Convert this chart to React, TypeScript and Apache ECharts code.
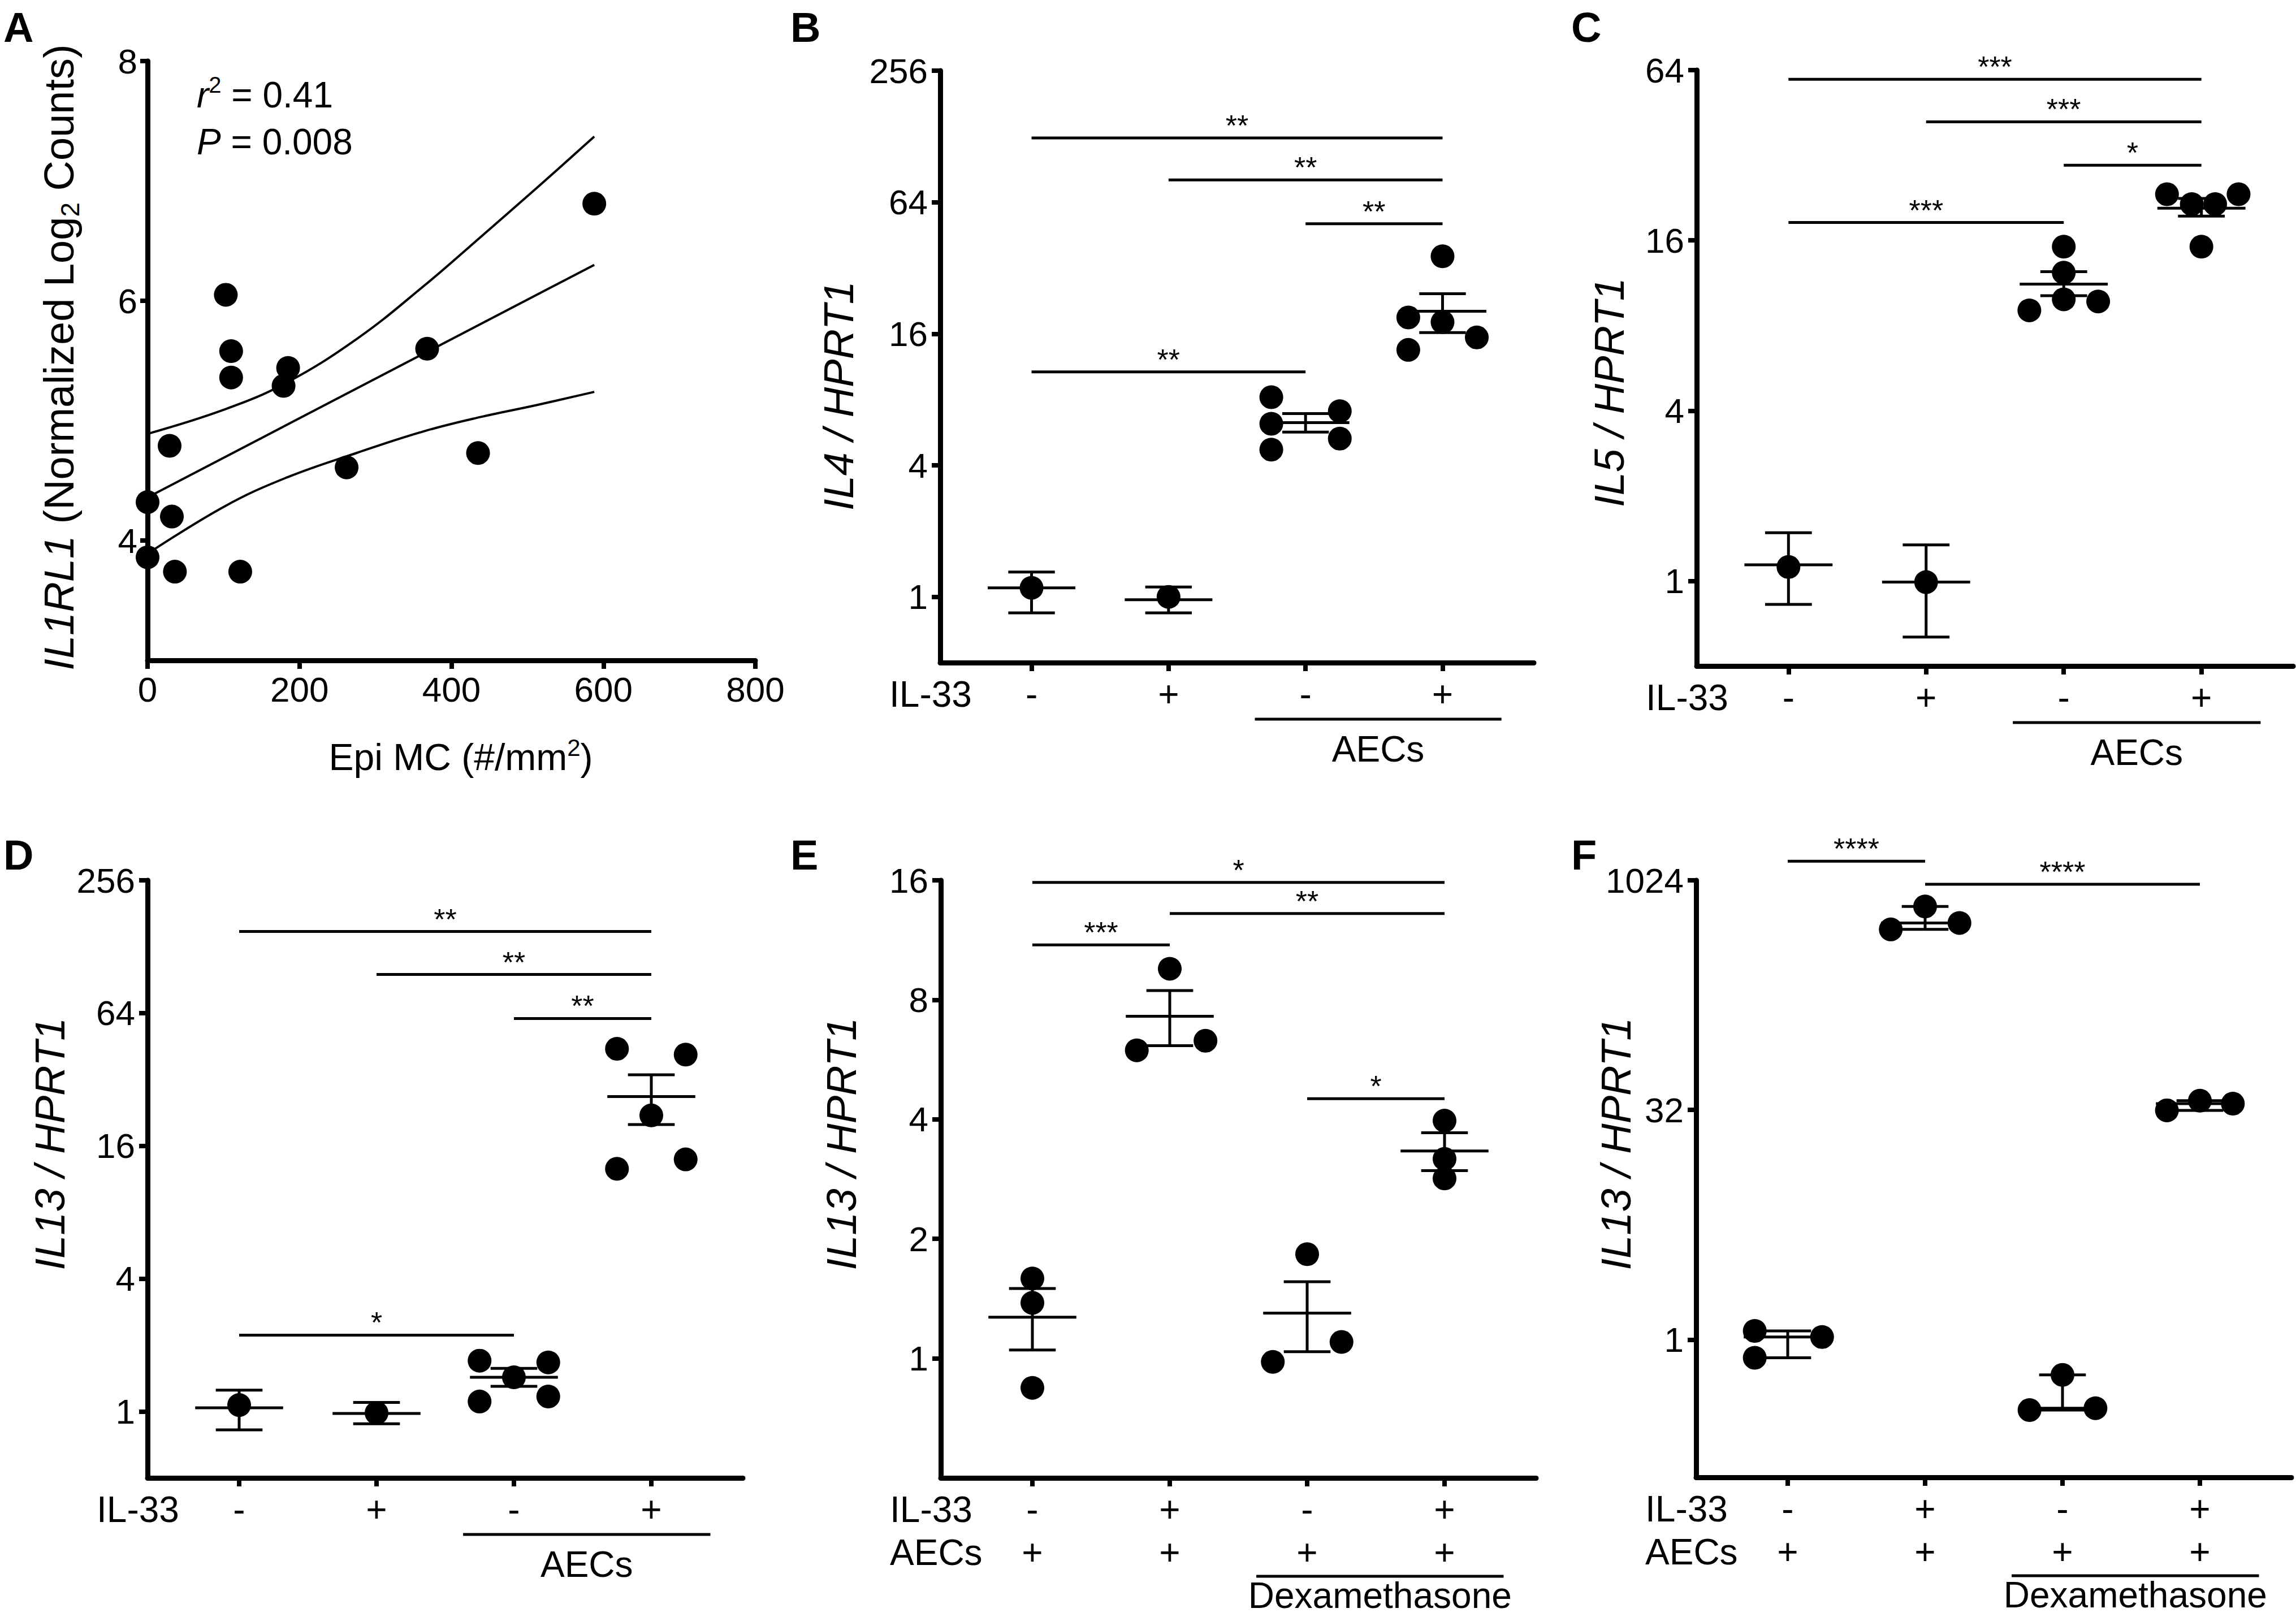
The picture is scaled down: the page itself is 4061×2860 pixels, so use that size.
import React, { useEffect, useRef } from "react";
import * as echarts from "echarts";

const FONT = "'Liberation Sans', Arial, Helvetica, sans-serif";
const BLACK = "#000000";

// ---------------- Panel A (scatter + regression) ----------------
const aEpiMC = [103, 110, 110, 185, 179, 368, 588, 29, 435, 262, 0, 32, 0, 36, 122];
const aIL1RL1 = [6.05, 5.58, 5.36, 5.44, 5.29, 5.6, 6.81, 4.79, 4.73, 4.61, 4.32, 4.2, 3.86, 3.74, 3.74];
const aFitX = [0, 588];
const aFitY = [4.36, 6.3];
const aBandX = [0, 100, 181, 275, 363, 438, 512, 588];
const aUpperY = [4.89, 5.09, 5.31, 5.68, 6.12, 6.53, 6.94, 7.37];
const aLowerY = [3.89, 4.28, 4.52, 4.73, 4.91, 5.03, 5.13, 5.24];
const aXTicks = [0, 200, 400, 600, 800];
const aYTicks = [4, 6, 8];

// ---------------- shared category labels ----------------
const catTicks = [0, 1, 2, 3];
const il33Labels = ["-", "+", "-", "+"];
const aecsLabels = ["+", "+", "+", "+"];

// ---------------- Panel B : IL4 / HPRT1 ----------------
const bDotX = [0, 1, 1.75, 1.75, 1.75, 2.25, 2.25, 3, 2.75, 3, 3.25, 2.75];
const bDotY = [1.1, 1.0, 8.2, 6.2, 4.72, 7.08, 5.3, 36.2, 19.0, 18.1, 15.4, 13.5];
const bMean = [1.1, 0.97, 6.27, 20.3];
const bLo = [0.845, 0.845, 5.68, 16.2];
const bHi = [1.3, 1.11, 6.9, 24.4];
const bBrX1 = [0, 1, 2, 0];
const bBrX2 = [3, 3, 3, 2];
const bBrY = [126, 81, 51, 10.7];
const bBrLabel = ["**", "**", "**", "**"];
const bYTicks = [1, 4, 16, 64, 256];

// ---------------- Panel C : IL5 / HPRT1 ----------------
const cDotX = [0, 1, 2, 2, 1.75, 2, 2.25, 2.75, 3.27, 2.93, 3.1, 3.0];
const cDotY = [1.12, 0.99, 15.2, 12.3, 9.05, 9.9, 9.73, 23.3, 23.3, 21.5, 21.5, 15.2];
const cMean = [1.14, 0.99, 11.2, 20.8];
const cLo = [0.826, 0.633, 10.2, 19.5];
const cHi = [1.48, 1.34, 12.4, 22.5];
const cBrX1 = [0, 1, 2, 0];
const cBrX2 = [3, 3, 3, 2];
const cBrY = [59.4, 42, 29.5, 18.5];
const cBrLabel = ["***", "***", "*", "***"];
const cYTicks = [1, 4, 16, 64];

// ---------------- Panel D : IL13 / HPRT1 ----------------
const dDotX = [0, 1, 1.75, 2.25, 2, 1.75, 2.25, 2.75, 3.25, 3, 2.75, 3.25];
const dDotY = [1.07, 0.985, 1.7, 1.67, 1.43, 1.11, 1.17, 44.1, 41.5, 22.0, 12.6, 13.9];
const dMean = [1.04, 0.98, 1.43, 26.8];
const dLo = [0.826, 0.88, 1.3, 20.0];
const dHi = [1.25, 1.1, 1.57, 33.6];
const dBrX1 = [0, 1, 2, 0];
const dBrX2 = [3, 3, 3, 2];
const dBrY = [150, 95.8, 60.5, 2.22];
const dBrLabel = ["**", "**", "**", "*"];
const dYTicks = [1, 4, 16, 64, 256];

// ---------------- Panel E : IL13 / HPRT1 (dexamethasone) ----------------
const eDotX = [0, 0, 0, 1, 0.76, 1.26, 2, 1.75, 2.25, 3, 3, 3];
const eDotY = [1.59, 1.38, 0.843, 9.58, 5.97, 6.31, 1.83, 0.98, 1.1, 3.97, 3.18, 2.84];
const eMean = [1.27, 7.27, 1.3, 3.33];
const eLo = [1.05, 6.13, 1.04, 2.97];
const eHi = [1.5, 8.44, 1.56, 3.7];
const eBrX1 = [0, 1, 0, 2];
const eBrX2 = [3, 3, 1, 3];
const eBrY = [15.8, 13.2, 11.0, 4.51];
const eBrLabel = ["*", "**", "***", "*"];
const eYTicks = [1, 2, 4, 8, 16];

// ---------------- Panel F : IL13 / HPRT1 (dexamethasone) ----------------
const fDotX = [-0.24, 0.25, -0.24, 1, 0.75, 1.25, 2, 1.76, 2.24, 2.76, 3.0, 3.24];
const fDotY = [1.14, 1.04, 0.76, 690, 488, 538, 0.587, 0.345, 0.355, 31.8, 36.8, 35.2];
const fMid = [1.04, 538, 0.355, 35.2];
const fLo = [0.76, 488, 0.345, 31.8];
const fHi = [1.14, 690, 0.587, 36.8];
const fBrX1 = [0, 1];
const fBrX2 = [1, 3];
const fBrY = [1366, 965];
const fBrLabel = ["****", "****"];
const fYTicks = [1, 32, 1024];

// ---------------- layout ----------------
const CAT_MIN = -2 / 3;
const CAT_MAX = 3 + 2 / 3;
const TICK_FONT = 62;
const CAT_FONT = 64;
const TITLE_FONT = 74;
const LETTER_FONT = 74;
const DOT = 42;

type Panel = {
  letter: string;
  letterX: number;
  letterY: number;
  grid: { left: number; top: number; width: number; height: number };
  yMin: number;
  yMax: number;
  yTicks: number[];
  dotX: number[];
  dotY: number[];
  mean: number[];
  lo: number[];
  hi: number[];
  brX1: number[];
  brX2: number[];
  brY: number[];
  brLabel: string[];
  title: string;
  titleX: number;
  titleY: number;
  rows: number;
  group: string;
};

const panels: Panel[] = [
  {
    letter: "B", letterX: 1398, letterY: 48,
    grid: { left: 1663, top: 125, width: 1050, height: 1047 },
    yMin: 0.5, yMax: 256, yTicks: bYTicks,
    dotX: bDotX, dotY: bDotY, mean: bMean, lo: bLo, hi: bHi,
    brX1: bBrX1, brX2: bBrX2, brY: bBrY, brLabel: bBrLabel,
    title: "IL4 / HPRT1", titleX: 1483, titleY: 700, rows: 1, group: "AECs",
  },
  {
    letter: "C", letterX: 2779, letterY: 48,
    grid: { left: 3001, top: 124, width: 1055, height: 1054 },
    yMin: 0.5, yMax: 64, yTicks: cYTicks,
    dotX: cDotX, dotY: cDotY, mean: cMean, lo: cLo, hi: cHi,
    brX1: cBrX1, brX2: cBrX2, brY: cBrY, brLabel: cBrLabel,
    title: "IL5 / HPRT1", titleX: 2846, titleY: 694, rows: 1, group: "AECs",
  },
  {
    letter: "D", letterX: 6, letterY: 1512,
    grid: { left: 261, top: 1557, width: 1053, height: 1057 },
    yMin: 0.5, yMax: 256, yTicks: dYTicks,
    dotX: dDotX, dotY: dDotY, mean: dMean, lo: dLo, hi: dHi,
    brX1: dBrX1, brX2: dBrX2, brY: dBrY, brLabel: dBrLabel,
    title: "IL13 / HPRT1", titleX: 88, titleY: 2023, rows: 1, group: "AECs",
  },
  {
    letter: "E", letterX: 1398, letterY: 1512,
    grid: { left: 1664, top: 1557, width: 1053, height: 1057 },
    yMin: 0.5, yMax: 16, yTicks: eYTicks,
    dotX: eDotX, dotY: eDotY, mean: eMean, lo: eLo, hi: eHi,
    brX1: eBrX1, brX2: eBrX2, brY: eBrY, brLabel: eBrLabel,
    title: "IL13 / HPRT1", titleX: 1488, titleY: 2023, rows: 2, group: "Dexamethasone",
  },
  {
    letter: "F", letterX: 2779, letterY: 1512,
    grid: { left: 3000, top: 1557, width: 1053, height: 1056 },
    yMin: 0.125, yMax: 1024, yTicks: fYTicks,
    dotX: fDotX, dotY: fDotY, mean: fMid, lo: fLo, hi: fHi,
    brX1: fBrX1, brX2: fBrX2, brY: fBrY, brLabel: fBrLabel,
    title: "IL13 / HPRT1", titleX: 2858, titleY: 2023, rows: 2, group: "Dexamethasone",
  },
];

const axisLineStyle = { color: BLACK, width: 9 };
const tickStyle = { color: BLACK, width: 8 };

function errorBarRender(params: any, api: any) {
  const x = api.value(0);
  const m = api.value(1);
  const l = api.value(2);
  const h = api.value(3);
  const ml = api.coord([x - 0.32, m]);
  const mr = api.coord([x + 0.32, m]);
  const pl = api.coord([x, l]);
  const ph = api.coord([x, h]);
  const cl1 = api.coord([x - 0.17, l]);
  const cl2 = api.coord([x + 0.17, l]);
  const ch1 = api.coord([x - 0.17, h]);
  const ch2 = api.coord([x + 0.17, h]);
  const style = { stroke: BLACK, lineWidth: 5, fill: null };
  return {
    type: "group",
    children: [
      { type: "line", shape: { x1: ml[0], y1: ml[1], x2: mr[0], y2: mr[1] }, style },
      { type: "line", shape: { x1: pl[0], y1: pl[1], x2: ph[0], y2: ph[1] }, style },
      { type: "line", shape: { x1: cl1[0], y1: cl1[1], x2: cl2[0], y2: cl2[1] }, style },
      { type: "line", shape: { x1: ch1[0], y1: ch1[1], x2: ch2[0], y2: ch2[1] }, style },
    ],
  };
}

function makeBracketRender(labels: string[]) {
  return (params: any, api: any) => {
    const a = api.coord([api.value(0), api.value(2)]);
    const b = api.coord([api.value(1), api.value(2)]);
    return {
      type: "group",
      children: [
        { type: "line", shape: { x1: a[0], y1: a[1], x2: b[0], y2: b[1] }, style: { stroke: BLACK, lineWidth: 5 } },
        {
          type: "text",
          x: (a[0] + b[0]) / 2,
          y: a[1] - 22,
          style: {
            text: labels[params.dataIndex],
            fill: BLACK,
            fontSize: 52,
            fontFamily: FONT,
            align: "center",
            verticalAlign: "middle",
          },
        },
      ],
    };
  };
}

function xPix(g: Panel["grid"], v: number) {
  return g.left + ((v - CAT_MIN) / (CAT_MAX - CAT_MIN)) * g.width;
}

function letterText(letter: string, x: number, y: number) {
  return {
    type: "text", x, y,
    style: {
      text: letter, fontSize: LETTER_FONT, lineHeight: LETTER_FONT, fontWeight: "bold",
      fontFamily: FONT, fill: BLACK, align: "left", verticalAlign: "middle",
    },
  };
}

function buildOption() {
  const grid: any[] = [];
  const xAxis: any[] = [];
  const yAxis: any[] = [];
  const series: any[] = [];
  const graphic: any[] = [];

  // ----- Panel A -----
  grid.push({ left: 261, top: 108, width: 1075, height: 1060 });
  xAxis.push({
    gridIndex: 0, type: "value", min: 0, max: 800,
    axisLine: { onZero: false, lineStyle: axisLineStyle },
    axisTick: { length: 15, lineStyle: tickStyle, customValues: aXTicks },
    axisLabel: { customValues: aXTicks, fontSize: TICK_FONT, color: BLACK, fontFamily: FONT, margin: 20 },
    splitLine: { show: false },
  });
  yAxis.push({
    gridIndex: 0, type: "value", min: 3, max: 8,
    axisLine: { onZero: false, lineStyle: axisLineStyle },
    axisTick: { length: 13, lineStyle: tickStyle, customValues: aYTicks },
    axisLabel: { customValues: aYTicks, fontSize: TICK_FONT, color: BLACK, fontFamily: FONT, margin: 18 },
    splitLine: { show: false },
  });
  series.push({
    type: "line", xAxisIndex: 0, yAxisIndex: 0, z: 3,
    data: aBandX.map((x, k) => [x, aUpperY[k]]),
    smooth: 0.4, showSymbol: false, lineStyle: { color: BLACK, width: 4 },
  });
  series.push({
    type: "line", xAxisIndex: 0, yAxisIndex: 0, z: 3,
    data: aBandX.map((x, k) => [x, aLowerY[k]]),
    smooth: 0.4, showSymbol: false, lineStyle: { color: BLACK, width: 4 },
  });
  series.push({
    type: "line", xAxisIndex: 0, yAxisIndex: 0, z: 3,
    data: aFitX.map((x, k) => [x, aFitY[k]]),
    showSymbol: false, lineStyle: { color: BLACK, width: 4 },
  });
  series.push({
    type: "scatter", xAxisIndex: 0, yAxisIndex: 0, z: 4,
    data: aEpiMC.map((x, k) => [x, aIL1RL1[k]]),
    symbolSize: DOT, itemStyle: { color: BLACK, opacity: 1 },
  });
  graphic.push(letterText("A", 6, 48));
  graphic.push({
    type: "text", x: 104, y: 632, rotation: Math.PI / 2,
    style: {
      text: "{i|IL1RL1} (Normalized Log{s|2} Counts)",
      fontSize: TITLE_FONT, fontFamily: FONT, fill: BLACK, align: "center", verticalAlign: "middle", lineHeight: 86,
      rich: {
        i: { fontStyle: "italic", fontSize: TITLE_FONT, fontFamily: FONT, fill: BLACK, lineHeight: 86 },
        s: { fontSize: 46, fontFamily: FONT, fill: BLACK, lineHeight: 46, verticalAlign: "bottom" },
      },
    },
  });
  graphic.push({
    type: "text", x: 815, y: 1339,
    style: {
      text: "Epi MC (#/mm{s|2})",
      fontSize: 66, fontFamily: FONT, fill: BLACK, align: "center", verticalAlign: "middle", lineHeight: 76,
      rich: { s: { fontSize: 42, fontFamily: FONT, fill: BLACK, lineHeight: 42, verticalAlign: "top" } },
    },
  });
  graphic.push({
    type: "text", x: 348, y: 168,
    style: {
      text: "{i|r}{s|2} = 0.41",
      fontSize: 64, fontFamily: FONT, fill: BLACK, align: "left", verticalAlign: "middle", lineHeight: 76,
      rich: {
        i: { fontStyle: "italic", fontSize: 64, fontFamily: FONT, fill: BLACK, lineHeight: 76 },
        s: { fontSize: 40, fontFamily: FONT, fill: BLACK, lineHeight: 40, verticalAlign: "top" },
      },
    },
  });
  graphic.push({
    type: "text", x: 348, y: 251,
    style: {
      text: "{i|P} = 0.008",
      fontSize: 64, fontFamily: FONT, fill: BLACK, align: "left", verticalAlign: "middle", lineHeight: 76,
      rich: { i: { fontStyle: "italic", fontSize: 64, fontFamily: FONT, fill: BLACK, lineHeight: 76 } },
    },
  });

  // ----- Category panels B–F -----
  panels.forEach((p, idx) => {
    const gi = idx + 1;
    const g = p.grid;
    grid.push({ left: g.left, top: g.top, width: g.width, height: g.height });
    xAxis.push({
      gridIndex: gi, type: "value", min: CAT_MIN, max: CAT_MAX,
      axisLine: { onZero: false, lineStyle: axisLineStyle },
      axisTick: { length: 15, lineStyle: tickStyle, customValues: catTicks },
      axisLabel: {
        customValues: catTicks,
        formatter: (v: number) => {
          const i = Math.round(v);
          return p.rows === 2 ? `${il33Labels[i]}\n${aecsLabels[i]}` : il33Labels[i];
        },
        fontSize: CAT_FONT, color: BLACK, fontFamily: FONT, margin: 18, lineHeight: 76,
      },
      splitLine: { show: false },
    });
    yAxis.push({
      gridIndex: gi, type: "log", logBase: 2, min: p.yMin, max: p.yMax,
      axisLine: { onZero: false, lineStyle: axisLineStyle },
      axisTick: { length: 15, lineStyle: tickStyle, customValues: p.yTicks },
      axisLabel: {
        customValues: p.yTicks,
        formatter: (v: number) => String(Math.round(v)),
        fontSize: TICK_FONT, color: BLACK, fontFamily: FONT, margin: 22,
      },
      splitLine: { show: false },
      minorTick: { show: false },
    });
    series.push({
      type: "scatter", xAxisIndex: gi, yAxisIndex: gi, z: 3,
      data: p.dotX.map((x, k) => [x, p.dotY[k]]),
      symbolSize: DOT, itemStyle: { color: BLACK, opacity: 1 },
    });
    series.push({
      type: "custom", xAxisIndex: gi, yAxisIndex: gi, z: 4, clip: false,
      encode: { x: 0, y: [1, 2, 3] },
      data: p.mean.map((m, k) => [catTicks[k], m, p.lo[k], p.hi[k]]),
      renderItem: errorBarRender,
    });
    series.push({
      type: "custom", xAxisIndex: gi, yAxisIndex: gi, z: 4, clip: false,
      encode: { x: [0, 1], y: 2 },
      data: p.brX1.map((x1, k) => [x1, p.brX2[k], p.brY[k]]),
      renderItem: makeBracketRender(p.brLabel),
    });

    const axisY = g.top + g.height;
    graphic.push(letterText(p.letter, p.letterX, p.letterY));
    graphic.push({
      type: "text", x: p.titleX, y: p.titleY, rotation: Math.PI / 2,
      style: { text: p.title, fontSize: TITLE_FONT, fontStyle: "italic", fontFamily: FONT, fill: BLACK, align: "center", verticalAlign: "middle" },
    });
    graphic.push({
      type: "text", x: g.left - 90, y: axisY + 56,
      style: { text: "IL-33", fontSize: CAT_FONT, fontFamily: FONT, fill: BLACK, align: "left", verticalAlign: "middle" },
    });
    if (p.rows === 2) {
      graphic.push({
        type: "text", x: g.left - 90, y: axisY + 132,
        style: { text: "AECs", fontSize: CAT_FONT, fontFamily: FONT, fill: BLACK, align: "left", verticalAlign: "middle" },
      });
    }
    const lineY = p.rows === 2 ? axisY + 174 : axisY + 100;
    const textY = p.rows === 2 ? axisY + 208 : axisY + 153;
    graphic.push({
      type: "line",
      shape: { x1: xPix(g, 2 - 0.37), y1: lineY, x2: xPix(g, 3 + 0.43), y2: lineY },
      style: { stroke: BLACK, lineWidth: 5 },
    });
    graphic.push({
      type: "text", x: xPix(g, 2.53), y: textY,
      style: {
        text: p.group, fontSize: CAT_FONT, lineHeight: 64, fontFamily: FONT, fill: BLACK,
        align: "center", verticalAlign: "middle",
      },
    });
  });

  return {
    animation: false,
    backgroundColor: "#ffffff",
    textStyle: { fontFamily: FONT },
    grid,
    xAxis,
    yAxis,
    series,
    graphic,
  };
}

export default function App() {
  const ref = useRef<HTMLDivElement | null>(null);
  useEffect(() => {
    document.body.style.margin = "0";
    if (!ref.current) return;
    const chart = echarts.init(ref.current, null, { renderer: "svg", width: 4061, height: 2860 });
    chart.setOption(buildOption() as any);
    return () => {
      chart.dispose();
    };
  }, []);
  return <div ref={ref} style={{ width: 4061, height: 2860, background: "#fff" }} />;
}
